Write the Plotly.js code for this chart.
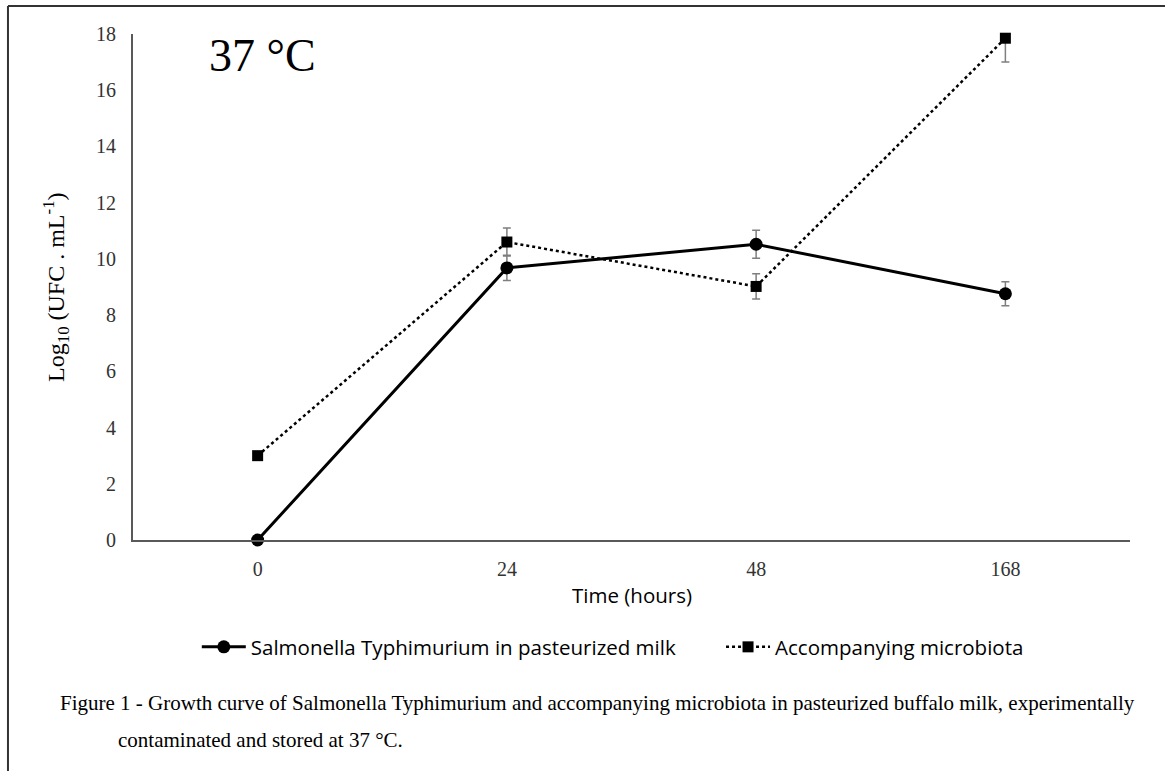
<!DOCTYPE html>
<html>
<head>
<meta charset="utf-8">
<script src="https://cdn.plot.ly/plotly-3.0.1.min.js"></script>
<style>
html,body{margin:0;padding:0;background:#fff;}
#chart{width:1165px;height:771px;}
</style>
</head>
<body>
<div id="chart"></div>
<script>
const timeLabels = ['0', '24', '48', '168'];
const salmonellaName = 'Salmonella Typhimurium in pasteurized milk';
const salmonella = [0, 9.68, 10.52, 8.76];
const salmonellaErr = [0, 0.45, 0.5, 0.43];
const microbiotaName = 'Accompanying microbiota';
const microbiota = [3.0, 10.6, 9.02, 17.85];
const microbiotaErrPlus = [0, 0.5, 0.45, 0];
const microbiotaErrMinus = [0, 0.5, 0.45, 0.85];
const yTicks = [0, 2, 4, 6, 8, 10, 12, 14, 16, 18];

const serif = 'Liberation Serif, Times New Roman, serif';
const sans = 'Open Sans, Lato, sans-serif';

const traces = [
  {
    x: timeLabels, y: salmonella, name: salmonellaName, type: 'scatter', mode: 'lines+markers',
    line: {color: '#000', width: 3},
    marker: {symbol: 'circle', size: 13, color: '#000'},
    error_y: {type: 'data', array: salmonellaErr, visible: true, color: '#7f7f7f', thickness: 1.5, width: 4},
    cliponaxis: false, legend: 'legend'
  },
  {
    x: timeLabels, y: microbiota, name: microbiotaName, type: 'scatter', mode: 'lines+markers',
    line: {color: '#000', width: 2.5, dash: 'dot'},
    marker: {symbol: 'square', size: 11, color: '#000'},
    error_y: {type: 'data', symmetric: false, array: microbiotaErrPlus, arrayminus: microbiotaErrMinus, visible: true, color: '#7f7f7f', thickness: 1.5, width: 4},
    cliponaxis: false, legend: 'legend2'
  }
];

const legendCommon = {
  orientation: 'h', xanchor: 'left', y: -0.2115, yanchor: 'middle',
  font: {family: sans, size: 20.5, color: '#000'}, itemwidth: 44, bgcolor: 'rgba(0,0,0,0)'
};

const layout = {
  width: 1165, height: 771,
  margin: {l: 133, r: 35, t: 34, b: 231},
  paper_bgcolor: '#fff', plot_bgcolor: '#fff',
  showlegend: true,
  legend: Object.assign({x: 0.064}, legendCommon),
  legend2: Object.assign({x: 0.5898}, legendCommon),
  xaxis: {
    type: 'category', range: [-0.5, 3.5], showgrid: false, zeroline: false,
    showline: true, linecolor: '#595959', linewidth: 2,
    ticks: '', tickfont: {family: serif, size: 20, color: '#333'},
    ticklabelstandoff: 10
  },
  yaxis: {
    range: [0, 18], tickvals: yTicks, showgrid: false, zeroline: false,
    showline: true, linecolor: '#595959', linewidth: 2,
    ticks: '', tickfont: {family: serif, size: 20, color: '#333'},
    ticklabelstandoff: 11
  },
  shapes: [
    {type: 'line', xref: 'paper', yref: 'paper', x0: -0.1254, x1: -0.1254, y0: 1.0553, y1: -0.46, line: {color: '#333', width: 2}},
    {type: 'line', xref: 'paper', yref: 'paper', x0: -0.1254, x1: 1.04, y0: 1.0553, y1: 1.0553, line: {color: '#333', width: 2}}
  ],
  annotations: [
    {text: '37 °C', xref: 'paper', yref: 'paper', x: 0.0742, y: 0.958, xanchor: 'left', yanchor: 'middle', showarrow: false, font: {family: serif, size: 46, color: '#000'}},
    {text: 'Log<sub>10</sub> (UFC . mL<sup>-1</sup>)', xref: 'paper', yref: 'paper', x: -0.0773, y: 0.5, xanchor: 'center', yanchor: 'middle', textangle: -90, showarrow: false, font: {family: serif, size: 24, color: '#000'}},
    {text: 'Time (hours)', xref: 'paper', yref: 'paper', x: 0.5, y: -0.1087, xanchor: 'center', yanchor: 'middle', showarrow: false, font: {family: sans, size: 20.5, color: '#000'}},
    {text: 'Figure 1 - Growth curve of Salmonella Typhimurium and accompanying microbiota in pasteurized buffalo milk, experimentally', xref: 'paper', yref: 'paper', x: -0.0752, y: -0.322, xanchor: 'left', yanchor: 'middle', showarrow: false, font: {family: serif, size: 21, color: '#000'}},
    {text: 'contaminated and stored at 37 °C.', xref: 'paper', yref: 'paper', x: -0.0171, y: -0.395, xanchor: 'left', yanchor: 'middle', showarrow: false, font: {family: serif, size: 21, color: '#000'}}
  ]
};

Plotly.newPlot('chart', traces, layout, {displayModeBar: false, staticPlot: true});
</script>
</body>
</html>
